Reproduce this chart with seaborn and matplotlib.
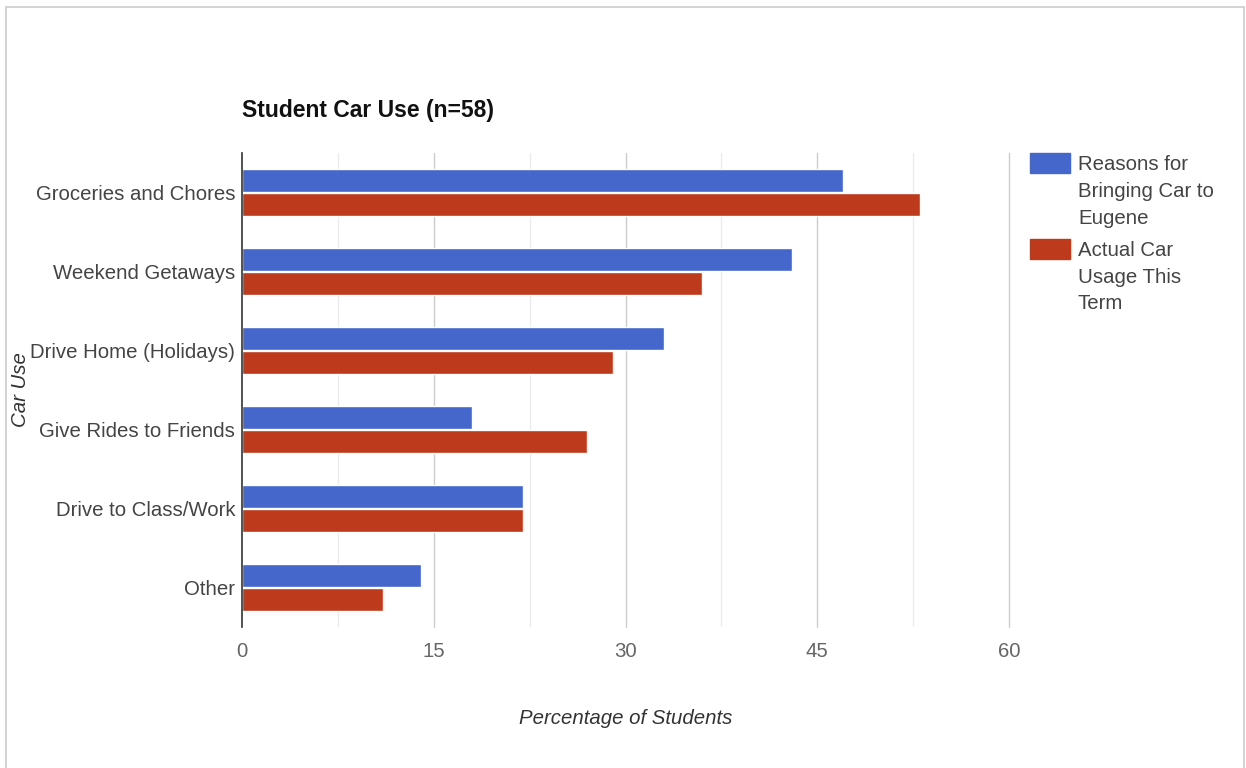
import matplotlib
matplotlib.use("Agg")
import matplotlib.pyplot as plt
import matplotlib.patches as mpatches
import numpy as np
import pandas as pd
import seaborn as sns

# Survey results: share of students per car use
categories = ["Groceries and Chores", "Weekend Getaways", "Drive Home (Holidays)",
              "Give Rides to Friends", "Drive to Class/Work", "Other"]
reasons = [47, 43, 33, 18, 22, 14]
actual = [53, 36, 29, 27, 22, 11]
series = ["Reasons for\nBringing Car to\nEugene", "Actual Car\nUsage This\nTerm"]
x_ticks = [0, 15, 30, 45, 60]

colors = ["#4566CB", "#BE3A1C"]

df = pd.DataFrame({
    "Car Use": categories * 2,
    "value": reasons + actual,
    "series": [series[0]] * len(categories) + [series[1]] * len(categories),
})

sns.set_theme(style="white")
plt.rcParams["font.family"] = ["Liberation Sans", "DejaVu Sans"]

FS = 14.7
W, H = 1246, 768

fig = plt.figure(figsize=(W / 100, H / 100), dpi=100)
ax = fig.add_axes([242 / W, 1 - 627 / H, 767 / W, 474 / H])

sns.barplot(data=df, y="Car Use", x="value", hue="series", order=categories,
            hue_order=series, palette=colors, orient="h", width=0.62, gap=0.05,
            saturation=1, ax=ax, legend=False)

ax.set_xlim(0, 60)
ax.set_ylim(len(categories) - 0.5, -0.5)

# gridlines: major every 15, minor halfway
for v in np.arange(7.5, 60, 15):
    ax.axvline(v, color="#EBEBEB", lw=1, zorder=0)
for v in x_ticks[1:]:
    ax.axvline(v, color="#CCCCCC", lw=1, zorder=0, clip_on=False)

for s in ["top", "right", "bottom"]:
    ax.spines[s].set_visible(False)
ax.spines["left"].set_color("#333333")
ax.spines["left"].set_linewidth(1.2)

ax.set_xticks(x_ticks)
ax.set_xticklabels([str(t) for t in x_ticks], color="#666666", fontsize=FS)
ax.tick_params(axis="x", length=0, pad=11)
ax.tick_params(axis="y", length=0, pad=5, labelsize=FS, labelcolor="#444444")

ax.set_xlabel("Percentage of Students", fontsize=FS, style="italic",
              color="#333333")
ax.xaxis.set_label_coords(0.5, -(719 - 627) / 474, transform=ax.transAxes)
ax.xaxis.label.set_va("center")
ax.set_ylabel("Car Use", fontsize=FS, style="italic", color="#333333")
ax.yaxis.set_label_coords((21 - 242) / 767, 0.5)
ax.yaxis.label.set_va("center")

fig.text(242 / W, 1 - 111 / H, "Student Car Use (n=58)", fontsize=16.5,
         fontweight="bold", color="#111111", va="center", ha="left")

# legend: colour key with wrapped labels, one line per row
key_top = [153, 239]
for color, label, top in zip(colors, series, key_top):
    fig.patches.append(mpatches.Rectangle((1030 / W, 1 - (top + 20) / H), 40 / W, 20 / H,
                                          transform=fig.transFigure,
                                          facecolor=color, edgecolor=color))
    for i, line in enumerate(label.split("\n")):
        fig.text(1078 / W, 1 - (top + 12 + 26.5 * i) / H, line, fontsize=FS,
                 color="#444444", va="center", ha="left")

# outer frame
fig.patches.append(mpatches.Rectangle((6 / W, -0.02), 1238 / W, 1 - 7 / H + 0.02,
                                      transform=fig.transFigure, fill=False,
                                      edgecolor="#CCCCCC", lw=1.2))

fig.savefig("out.png", dpi=100, facecolor="white")
